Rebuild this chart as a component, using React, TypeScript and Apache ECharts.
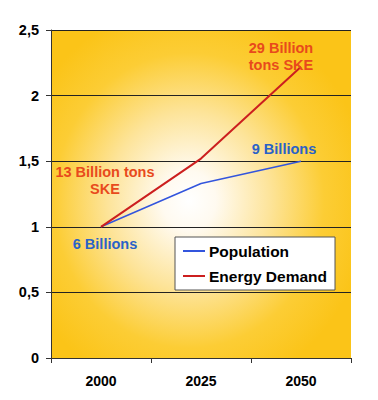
import React, { useEffect, useRef } from "react";
import * as echarts from "echarts";

const years = ["2000", "2025", "2050"];
const population = [1, 1.33, 1.5];
const energyDemand = [1, 1.52, 2.22];
const yTicks = [0, 0.5, 1, 1.5, 2, 2.5];
const popLabels = ["6 Billions", "", "9 Billions"];
const energyLabels = ["13 Billion tons\nSKE", "", "29 Billion\ntons SKE"];

const FONT = "'Liberation Sans', Arial, sans-serif";
const popLabelOffsets: number[][] = [[4, 17], [0, 0], [-17, -12]];
const energyLabelOffsets: number[][] = [[4, -46], [0, 0], [-20, -10]];

export default function App() {
  const ref = useRef<HTMLDivElement>(null);
  useEffect(() => {
    if (!ref.current) return;
    const chart = echarts.init(ref.current, null, { renderer: "svg" });
    const mk = (vals: number[], labels: string[], offs: number[][], color: string) =>
      vals.map((v, i) => ({
        value: v,
        label: labels[i]
          ? {
              show: true,
              formatter: labels[i],
              position: "inside",
              offset: offs[i],
              color,
              fontFamily: FONT,
              fontWeight: "bold",
              fontSize: 14.5,
              lineHeight: 17,
              align: "center",
              verticalAlign: "middle",
            }
          : { show: false },
      }));
    chart.setOption({
      animation: false,
      textStyle: { fontFamily: FONT },
      grid: {
        left: 51,
        right: 27,
        top: 30,
        bottom: 42,
        containLabel: false,
        show: true,
        borderWidth: 0,
        backgroundColor: new echarts.graphic.RadialGradient(0.46, 0.52, 0.6, [
          { offset: 0, color: "#ffffff" },
          { offset: 0.15, color: "#fffaf0" },
          { offset: 0.45, color: "#fde49a" },
          { offset: 0.75, color: "#fccd35" },
          { offset: 1, color: "#fbc418" },
        ]),
      },
      legend: {
        orient: "vertical",
        left: 175,
        top: 237,
        padding: [6, 8, 6, 8],
        itemGap: 9,
        itemWidth: 22,
        itemHeight: 2,
        icon: "rect",
        backgroundColor: "#ffffff",
        borderColor: "#555555",
        borderWidth: 1,
        textStyle: { fontFamily: FONT, fontWeight: "bold", fontSize: 15.5, color: "#000", padding: [0, 0, 0, -1] },
        data: ["Population", "Energy Demand"],
      },
      xAxis: {
        type: "category",
        data: years,
        boundaryGap: true,
        axisLine: { lineStyle: { color: "#333", width: 1 } },
        axisTick: { show: true, length: 5, lineStyle: { color: "#333" } },
        axisLabel: { color: "#000", fontWeight: "bold", fontSize: 14, margin: 16, fontFamily: FONT },
        splitLine: { show: false },
      },
      yAxis: {
        type: "value",
        min: yTicks[0],
        max: yTicks[yTicks.length - 1],
        interval: 0.5,
        axisLine: { show: true, lineStyle: { color: "#333", width: 1 } },
        axisTick: { show: true, length: 5, lineStyle: { color: "#333" } },
        axisLabel: {
          color: "#000",
          fontWeight: "bold",
          fontSize: 14.5,
          margin: 12,
          fontFamily: FONT,
          formatter: (v: number) => String(v).replace(".", ","),
        },
        splitLine: { show: true, lineStyle: { color: "#222", width: 1 } },
      },
      series: [
        {
          name: "Population",
          type: "line",
          data: mk(population, popLabels, popLabelOffsets, "#2a62c8"),
          color: "#3355dd",
          lineStyle: { color: "#3355dd", width: 1.5 },
          showSymbol: true,
          symbol: "circle",
          symbolSize: 0.1,
          z: 3,
        },
        {
          name: "Energy Demand",
          type: "line",
          data: mk(energyDemand, energyLabels, energyLabelOffsets, "#e84a1c"),
          color: "#cc1f1f",
          lineStyle: { color: "#cc1f1f", width: 2 },
          showSymbol: true,
          symbol: "circle",
          symbolSize: 0.1,
          z: 4,
        },
      ],
    });
    return () => chart.dispose();
  }, []);
  return <div ref={ref} style={{ width: 378, height: 400, margin: -8 }} />;
}
